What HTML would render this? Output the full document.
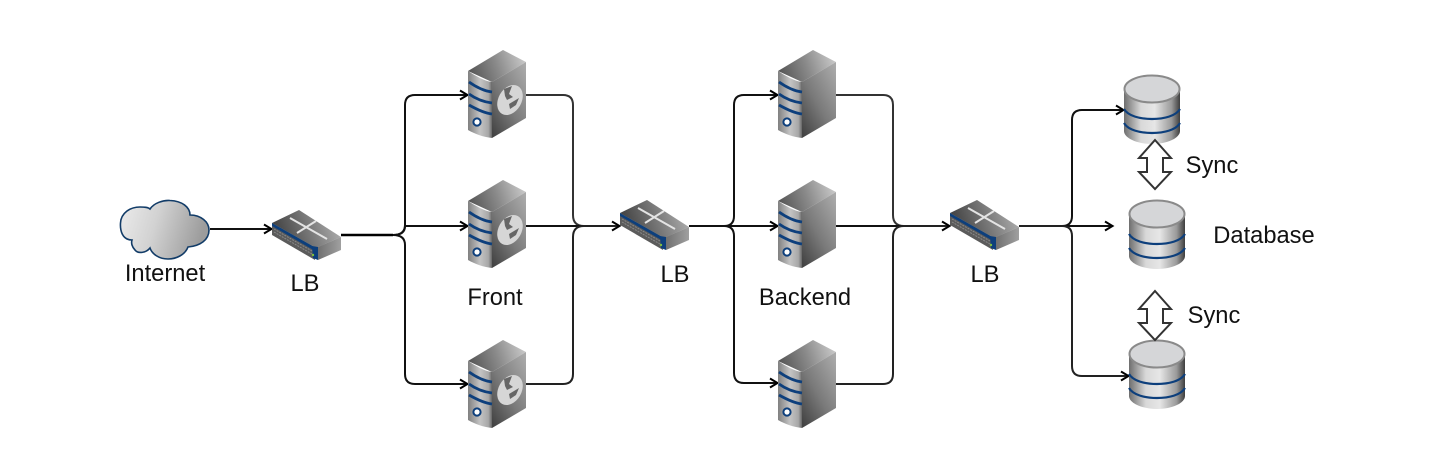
<!DOCTYPE html>
<html><head><meta charset="utf-8"><style>
html,body{margin:0;padding:0;background:#fff}
svg{display:block}
text{font-family:"Liberation Sans",Arial,sans-serif;font-size:23.7px;fill:#111;text-anchor:middle}
</style></head><body>
<svg width="1454" height="450" viewBox="0 0 1454 450" xmlns="http://www.w3.org/2000/svg">
<defs>
<linearGradient id="cl" x1="0" x2="1" y1="0" y2="0.2"><stop offset="0" stop-color="#ececec"/><stop offset="0.45" stop-color="#d2d2d2"/><stop offset="1" stop-color="#9c9c9c"/></linearGradient>
<linearGradient id="st" x1="0" x2="1" y1="0.6" y2="0.4"><stop offset="0" stop-color="#555"/><stop offset="0.5" stop-color="#8a8a8a"/><stop offset="1" stop-color="#c8c8c8"/></linearGradient>
<linearGradient id="sf" x1="0" x2="1" y1="0" y2="0"><stop offset="0" stop-color="#808080"/><stop offset="0.5" stop-color="#c4c4c4"/><stop offset="0.85" stop-color="#a8a8a8"/><stop offset="1" stop-color="#666"/></linearGradient>
<linearGradient id="sr" x1="0.9" x2="0.1" y1="0" y2="1"><stop offset="0" stop-color="#aaa"/><stop offset="0.55" stop-color="#7a7a7a"/><stop offset="1" stop-color="#444"/></linearGradient>
<linearGradient id="wt" x1="0" x2="1" y1="0.6" y2="0.4"><stop offset="0" stop-color="#3c3c3c"/><stop offset="0.6" stop-color="#808080"/><stop offset="1" stop-color="#b0b0b0"/></linearGradient>
<linearGradient id="wr" x1="0" x2="1" y1="0" y2="0"><stop offset="0" stop-color="#707070"/><stop offset="1" stop-color="#a0a0a0"/></linearGradient>
<linearGradient id="db" x1="0" x2="1" y1="0" y2="0"><stop offset="0" stop-color="#6e6e6e"/><stop offset="0.3" stop-color="#d8d8d8"/><stop offset="0.55" stop-color="#e6e6e6"/><stop offset="0.85" stop-color="#9a9a9a"/><stop offset="1" stop-color="#3e3e3e"/></linearGradient>

<g id="server">
<polygon points="0,21 35,0 58,12 24,32" fill="url(#st)"/>
<path d="M0 21 C8 26 16 31 24 32 V88 C15 87 7 84 0 80Z" fill="url(#sf)"/>
<polygon points="24,32 58,12 58,68 24,88" fill="url(#sr)"/>
<g fill="none" stroke="#0d3f7c" stroke-width="2.8">
<path d="M1 32 C8 37 16 41 24 42"/><path d="M1 44 C8 49 16 52 24 53"/><path d="M1 55 C8 59 16 63 24 64"/>
</g>
<circle cx="9" cy="72" r="3.6" fill="#fff" stroke="#0d3f7c" stroke-width="2"/>
</g>

<g id="globe">
<ellipse cx="42" cy="50" rx="11.5" ry="16" transform="rotate(30 42 50)" fill="#d6d6d6"/>
<path d="M36 39 L44 36 L41 44 L45 47 L39 50 L37 46Z M41 54 L51 48 L48 55 L42 59Z" fill="#666"/>
</g>

<g id="switch">
<polygon points="0,13 27,0 69,27 44,38" fill="url(#wt)"/>
<polygon points="0,13 44,38 43,50 0,25" fill="#5b5b5b"/>
<polygon points="0,13 44,38 43,41 0,16" fill="#0d3f7c"/>
<polygon points="40,36 46,37 46,50 41,48" fill="#0d3f7c"/>
<polygon points="46,37 69,27 69,40 46,50" fill="url(#wr)"/>
<g fill="none" stroke="#888" stroke-width="1" stroke-dasharray="2 1"><path d="M2 19 L40 41"/><path d="M2 22 L40 44"/></g>
<circle cx="41" cy="45" r="1.2" fill="#7fbf3f"/>
<g stroke="#e4e4e4" stroke-width="2" fill="none"><path d="M18 8 L55 29"/><path d="M25 23 L44 11"/></g>
</g>

<g id="cyl">
<path d="M0 14 V56 C0 63 13 69 28 69 C43 69 56 63 56 56 V14Z" fill="url(#db)"/>
<g fill="none" stroke="#0d3f7c" stroke-width="2.2">
<path d="M0 34 C4 41 16 44 28 44 C40 44 52 41 56 34"/>
<path d="M0 48 C4 55 16 58 28 58 C40 58 52 55 56 48"/>
</g>
<ellipse cx="28" cy="14" rx="27.5" ry="13.5" fill="#d5d6d8" stroke="#8a8a8a" stroke-width="2"/>
</g>

<path id="dbl" d="M17 1 L33 19 H25 V33 H33 L17 50 L1 33 H9 V19 H1Z" fill="#fff" stroke="#333" stroke-width="2" stroke-linejoin="miter"/>
<path id="ah" d="M-8 -4.5 L-0.5 0 L-8 4.5" fill="none" stroke="#000" stroke-width="2"/>
</defs>

<!-- connectors -->
<g fill="none" stroke="#111" stroke-width="2">
<path d="M210 229 H270"/>
<path d="M341 235 H393 Q405 235 405 225 V105 Q405 95 415 95 H466"/>
<path d="M341 235 H393 Q405 235 405 226 H466"/>
<path d="M341 235 H393 Q405 235 405 245 V374 Q405 384 415 384 H466"/>
<path d="M526 95 H563 Q573 95 573 105 V215 Q573 226 584 226 H618" stroke="#333"/>
<path d="M526 226 H618"/>
<path d="M526 384 H563 Q573 384 573 374 V237 Q573 226 584 226 H618" stroke="#222"/>
<path d="M689 226 H724 Q734 226 734 216 V105 Q734 95 744 95 H776"/>
<path d="M689 226 H776"/>
<path d="M689 226 H724 Q734 226 734 236 V373 Q734 383 744 383 H776"/>
<path d="M836 95 H883 Q893 95 893 105 V215 Q893 226 904 226 H948" stroke="#333"/>
<path d="M836 226 H948"/>
<path d="M836 384 H883 Q893 384 893 374 V237 Q893 226 904 226 H948" stroke="#222"/>
<path d="M1019 226 H1062 Q1072 226 1072 216 V120 Q1072 110 1082 110 H1122"/>
<path d="M1019 226 H1111"/>
<path d="M1019 226 H1062 Q1072 226 1072 236 V366 Q1072 376 1082 376 H1127" stroke="#222"/>
</g>
<path d="M341 235 H393" stroke="#000" stroke-width="2.4" fill="none"/>
<use href="#ah" x="272" y="229"/>
<use href="#ah" x="468" y="95"/><use href="#ah" x="468" y="226"/><use href="#ah" x="468" y="384"/>
<use href="#ah" x="620" y="226"/>
<use href="#ah" x="778" y="95"/><use href="#ah" x="778" y="226"/><use href="#ah" x="778" y="383"/>
<use href="#ah" x="950" y="226"/>
<use href="#ah" x="1124" y="110"/><use href="#ah" x="1113" y="226"/><use href="#ah" x="1129" y="376"/>

<!-- cloud -->
<path d="M132 240 C122 240 120 230 120.5 223 C121 213 130 207 140 207 C144 207 148 207 150 209 C154 203 163 200 170 200.5 C182 201 190 207 190 215 C201 215 209 222 209 230 C209 240 200 246 188 247 C185 255 176 259 168 259 C159 259 152 254 150 248 C146 253 138 254 135 250 C132 247 131 243 132 240Z" fill="url(#cl)" stroke="#123c68" stroke-width="1.6"/>

<!-- switches -->
<use href="#switch" x="272" y="210"/>
<use href="#switch" x="620" y="200"/>
<use href="#switch" x="950" y="200"/>

<!-- servers -->
<use href="#server" x="468" y="50"/><use href="#globe" x="468" y="50"/>
<use href="#server" x="468" y="180"/><use href="#globe" x="468" y="180"/>
<use href="#server" x="468" y="340"/><use href="#globe" x="468" y="340"/>
<use href="#server" x="778" y="50"/>
<use href="#server" x="778" y="180"/>
<use href="#server" x="778" y="340"/>

<!-- databases -->
<use href="#cyl" x="1124" y="75"/>
<use href="#cyl" x="1129" y="200"/>
<use href="#cyl" x="1129" y="340"/>
<use href="#dbl" x="1138" y="139"/>
<use href="#dbl" x="1138" y="290"/>

<!-- labels -->
<text x="165" y="281">Internet</text>
<text x="305" y="291">LB</text>
<text x="495" y="305">Front</text>
<text x="675" y="282">LB</text>
<text x="805" y="305">Backend</text>
<text x="985" y="282">LB</text>
<text x="1212" y="173">Sync</text>
<text x="1264" y="243">Database</text>
<text x="1214" y="323">Sync</text>
</svg>
</body></html>
